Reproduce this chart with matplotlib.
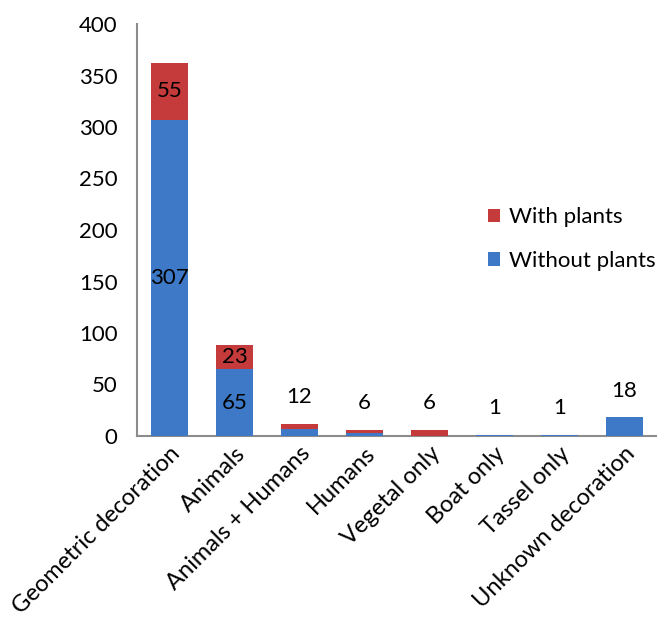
import matplotlib.pyplot as plt
import numpy as np

categories = ["Geometric decoration", "Animals", "Animals + Humans", "Humans",
              "Vegetal only", "Boat only", "Tassel only", "Unknown decoration"]
without_plants = [307, 65, 7, 3, 0, 1, 1, 18]
with_plants = [55, 23, 5, 3, 6, 0, 0, 0]
totals = [12, 6, 6, 1, 1, 18]  # labels shown above the small bars
yticks = [0, 50, 100, 150, 200, 250, 300, 350, 400]

plt.rcParams['font.family'] = ['Lato', 'DejaVu Sans']

fig = plt.figure(figsize=(6.57, 6.17), dpi=100)
ax = fig.add_axes([137 / 657, 1 - 436 / 617, 520 / 657, 412 / 617])

x = np.arange(len(categories))
blue = '#3D79C6'
red = '#C53A3A'
w = 0.58
b1 = ax.bar(x, without_plants, width=w, color=blue, label='Without plants', zorder=3)
b2 = ax.bar(x, with_plants, width=w, bottom=without_plants, color=red,
            label='With plants', zorder=3)

ax.set_xlim(-0.5, len(categories) - 0.5)
ax.set_ylim(0, 400)
ax.set_yticks(yticks)
ax.tick_params(axis='y', length=0, labelsize=16, pad=14)
ax.tick_params(axis='x', length=0, labelsize=17, pad=5)
ax.set_xticks(x)
ax.set_xticklabels(categories, rotation=45, ha='right', rotation_mode='anchor')

for s in ['top', 'right']:
    ax.spines[s].set_visible(False)
for s in ['left', 'bottom']:
    ax.spines[s].set_color('#8c8c8c')
    ax.spines[s].set_linewidth(1.5)

# labels inside the two large bars
for i in range(2):
    ax.text(x[i], without_plants[i] / 2, str(without_plants[i]), ha='center',
            va='center', fontsize=16)
    ax.text(x[i], without_plants[i] + with_plants[i] / 2, str(with_plants[i]),
            ha='center', va='center', fontsize=16)

# totals above the small bars
for i, t in zip(range(2, len(categories)), totals):
    top = without_plants[i] + with_plants[i]
    ax.annotate(str(t), (x[i], top), xytext=(0, 12), textcoords='offset points',
                ha='center', va='bottom', fontsize=16)

handles = [b2, b1]
leg = ax.legend(handles, ['With plants', 'Without plants'], loc='upper left',
                bbox_to_anchor=(0.675, 0.555), frameon=False, fontsize=16,
                handlelength=0.55, handleheight=0.55, handletextpad=0.4,
                labelspacing=1.05, borderaxespad=0, borderpad=0)

fig.savefig('out.png', dpi=100)
